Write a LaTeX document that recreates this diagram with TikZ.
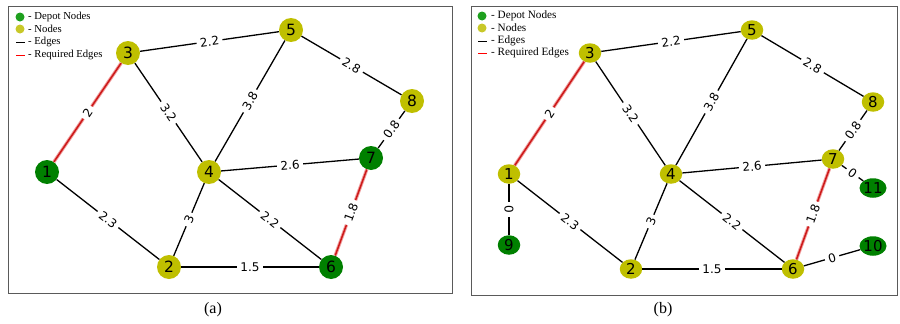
\documentclass[tikz,border=0pt]{standalone}
\usepackage{fontspec}
\setmainfont{Liberation Serif}
\newfontfamily\dvs{DejaVu Sans}
\usetikzlibrary{shapes.geometric}
\definecolor{nodey}{RGB}{191,191,0}
\definecolor{nodeg}{RGB}{0,128,0}
\definecolor{legy}{RGB}{200,200,40}
\definecolor{legg}{RGB}{30,160,30}
\definecolor{boxc}{RGB}{90,90,90}
\definecolor{reqcore}{RGB}{205,25,25}
\definecolor{reqglow}{RGB}{240,160,160}
\tikzset{
  vtx/.style={circle, minimum size=24pt, inner sep=0pt, font=\dvs\fontsize{15.5}{15.5}\selectfont},
  vtxb/.style={ellipse, minimum width=22.5pt, minimum height=19.5pt, inner sep=0pt, font=\dvs\fontsize{15}{15}\selectfont},
  ynode/.style={fill=nodey},
  gnode/.style={fill=nodeg},
  edge/.style={draw=black, line width=1.3pt},
  req/.style={draw=reqcore, line width=1.5pt, preaction={draw=reqglow, line width=3.4pt}},
  elab/.style={midway, sloped, fill=white, inner xsep=3.5pt, inner ysep=1pt, font=\dvs\fontsize{12}{12}\selectfont},
  legtxt/.style={anchor=west, inner sep=0pt, font=\fontsize{10.7}{11}\selectfont},
  legtxtb/.style={anchor=west, inner sep=0pt, font=\fontsize{11.2}{12}\selectfont},
  legdot/.style={circle, minimum size=9pt, inner sep=0pt},
  frame/.style={draw=boxc, line width=1pt},
  captxt/.style={font=\fontsize{16}{16}\selectfont, inner sep=0pt}
}
\begin{document}
\begin{tikzpicture}[x=1pt,y=-1pt]
\useasboundingbox (0,0) rectangle (900,324);
% frames
\draw[frame] (8,6) rectangle (452,293);
\draw[frame] (471,6) rectangle (897,295);
% captions
\node[captxt] (capa) at (213,310) {(a)};
\node[captxt] (capb) at (663,310) {(b)};

% ---------- panel (a) ----------
\node[vtx,gnode] (a1) at (47,172) {1};
\node[vtx,ynode] (a2) at (169,267) {2};
\node[vtx,ynode] (a3) at (128,53) {3};
\node[vtx,ynode] (a4) at (209,172) {4};
\node[vtx,ynode] (a5) at (291,30) {5};
\node[vtx,gnode] (a6) at (331,267) {6};
\node[vtx,gnode] (a7) at (371,158) {7};
\node[vtx,ynode] (a8) at (412,101) {8};

\draw[req] (a1) -- node[elab]{2} (a3);
\draw[edge] (a3) -- node[elab]{2.2} (a5);
\draw[edge] (a3) -- node[elab]{3.2} (a4);
\draw[edge] (a5) -- node[elab]{2.8} (a8);
\draw[edge] (a4) -- node[elab]{3.8} (a5);
\draw[edge] (a8) -- node[elab]{0.8} (a7);
\draw[edge] (a4) -- node[elab]{2.6} (a7);
\draw[edge] (a1) -- node[elab]{2.3} (a2);
\draw[edge] (a2) -- node[elab]{3} (a4);
\draw[edge] (a4) -- node[elab]{2.2} (a6);
\draw[req] (a6) -- node[elab]{1.8} (a7);
\draw[edge] (a2) -- node[elab]{1.5} (a6);

% legend (a)
\node[legdot, fill=legg] (la1) at (20,17) {};
\node[legtxt] (lt1) at (28,17) {- Depot Nodes};
\node[legdot, fill=legy] (la2) at (20,29) {};
\node[legtxt] (lt2) at (28,29) {- Nodes};
\coordinate (la3s) at (16,42.5); \coordinate (la3e) at (25,42.5);
\draw[black, line width=1.3pt] (la3s) -- (la3e);
\node[legtxt] (lt3) at (28,42) {- Edges};
\coordinate (la4s) at (16,55.5); \coordinate (la4e) at (25,55.5);
\draw[red, line width=1.5pt] (la4s) -- (la4e);
\node[legtxt] (lt4) at (28,55) {- Required Edges};

% ---------- panel (b) ----------
\node[vtxb,ynode] (b1) at (509,174) {1};
\node[vtxb,ynode] (b2) at (631,269) {2};
\node[vtxb,ynode] (b3) at (590,53) {3};
\node[vtxb,ynode] (b4) at (671,174) {4};
\node[vtxb,ynode] (b5) at (752,30) {5};
\node[vtxb,ynode] (b6) at (793,269) {6};
\node[vtxb,ynode] (b7) at (833,159) {7};
\node[vtxb,ynode] (b8) at (873,102) {8};
\node[vtxb,gnode] (b9) at (509,245) {9};
\node[vtxb,gnode] (b10) at (873,246) {10};
\node[vtxb,gnode] (b11) at (873,188) {11};

\draw[req] (b1) -- node[elab]{2} (b3);
\draw[edge] (b3) -- node[elab]{2.2} (b5);
\draw[edge] (b3) -- node[elab]{3.2} (b4);
\draw[edge] (b5) -- node[elab]{2.8} (b8);
\draw[edge] (b4) -- node[elab]{3.8} (b5);
\draw[edge] (b8) -- node[elab]{0.8} (b7);
\draw[edge] (b4) -- node[elab]{2.6} (b7);
\draw[edge] (b1) -- node[elab]{2.3} (b2);
\draw[edge] (b2) -- node[elab]{3} (b4);
\draw[edge] (b4) -- node[elab]{2.2} (b6);
\draw[req] (b6) -- node[elab]{1.8} (b7);
\draw[edge] (b2) -- node[elab]{1.5} (b6);
\draw[edge] (b1) -- node[elab]{0} (b9);
\draw[edge] (b7) -- node[elab]{0} (b11);
\draw[edge] (b6) -- node[elab]{0} (b10);

% legend (b)
\node[legdot, fill=legg] (lb1) at (482,16) {};
\node[legtxtb] (mt1) at (491,16) {- Depot Nodes};
\node[legdot, fill=legy] (lb2) at (482,28) {};
\node[legtxtb] (mt2) at (491,28) {- Nodes};
\coordinate (lb3s) at (478,41.5); \coordinate (lb3e) at (487,41.5);
\draw[black, line width=1.3pt] (lb3s) -- (lb3e);
\node[legtxtb] (mt3) at (491,41) {- Edges};
\coordinate (lb4s) at (478,53.5); \coordinate (lb4e) at (487,53.5);
\draw[red, line width=1.5pt] (lb4s) -- (lb4e);
\node[legtxtb] (mt4) at (491,53) {- Required Edges};
\end{tikzpicture}
\end{document}
